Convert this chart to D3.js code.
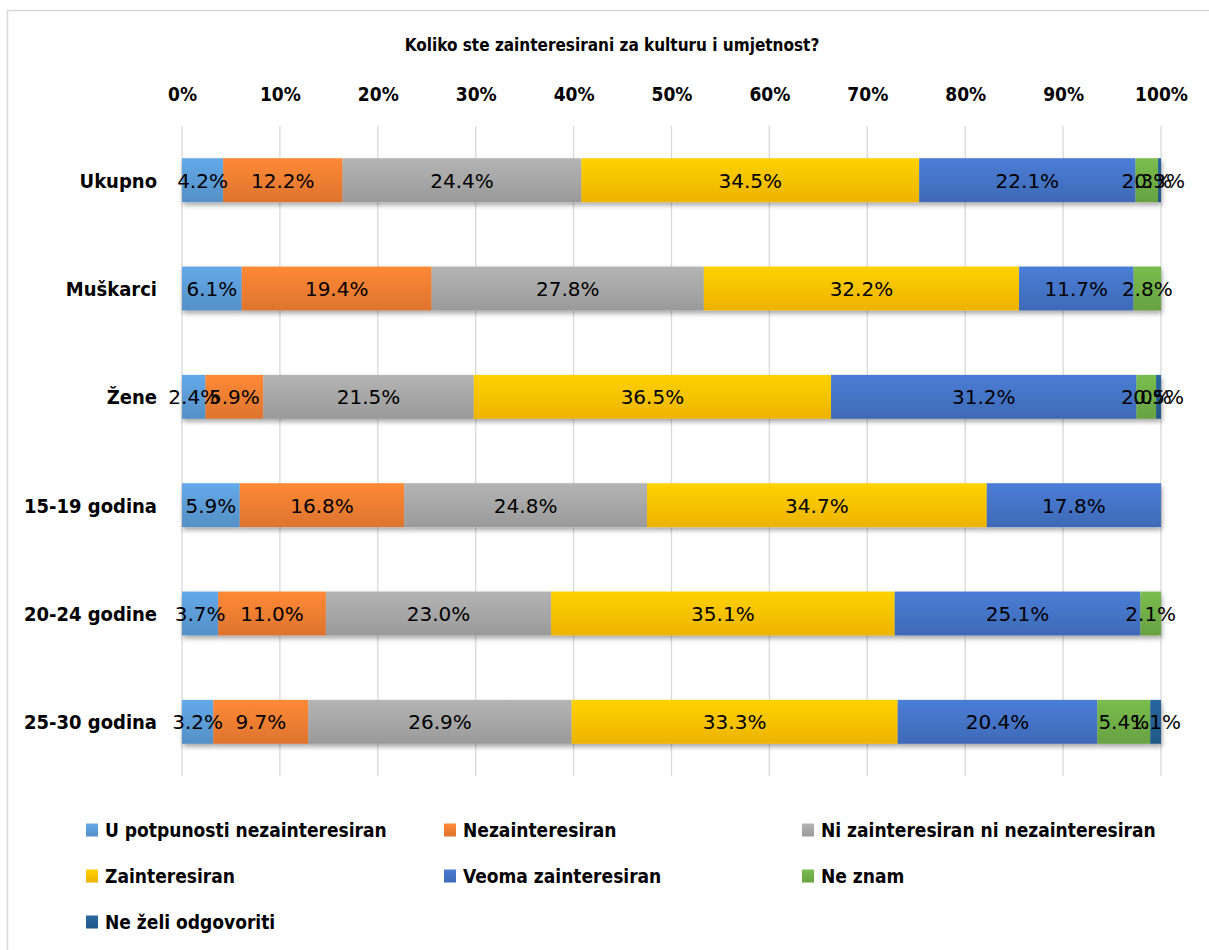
<!DOCTYPE html>
<html><head><meta charset="utf-8">
<script src="https://cdn.jsdelivr.net/npm/d3@7"></script>
<style>
body{margin:0;background:#fff;}
svg{display:block;}
</style></head>
<body>
<svg id="c" width="1209" height="950"></svg>
<script>
const categories = ["Ukupno","Muškarci","Žene","15-19 godina","20-24 godine","25-30 godina"];
const seriesNames = ["U potpunosti nezainteresiran","Nezainteresiran","Ni zainteresiran ni nezainteresiran","Zainteresiran","Veoma zainteresiran","Ne znam","Ne želi odgovoriti"];
const seriesColors = ["#5B9BD5","#ED7D31","#A5A5A5","#FFC000","#4472C4","#70AD47","#255E91"];
const sUpotpunosti = [4.2, 6.1, 2.4, 5.9, 3.7, 3.2];
const sNezaint     = [12.2, 19.4, 5.9, 16.8, 11.0, 9.7];
const sNi          = [24.4, 27.8, 21.5, 24.8, 23.0, 26.9];
const sZaint       = [34.5, 32.2, 36.5, 34.7, 35.1, 33.3];
const sVeoma       = [22.1, 11.7, 31.2, 17.8, 25.1, 20.4];
const sNeZnam      = [2.3, 2.8, 2.0, 0, 2.1, 5.4];
const sNeZeli      = [0.3, 0, 0.5, 0, 0, 1.1];
const tickValues = [0,10,20,30,40,50,60,70,80,90,100];
const title = "Koliko ste zainteresirani za kulturu i umjetnost?";

const series = [sUpotpunosti,sNezaint,sNi,sZaint,sVeoma,sNeZnam,sNeZeli];
const rows = categories.map((c,i)=>{const o={cat:c}; seriesNames.forEach((s,j)=>o[s]=series[j][i]); return o;});
const stacked = d3.stack().keys(seriesNames)(rows);

const svg = d3.select("#c");
const cond = "'DejaVu Sans Condensed','DejaVu Sans',sans-serif";
const regular = "'DejaVu Sans',sans-serif";

// frame
svg.append("rect").attr("x",7.5).attr("y",10.5).attr("width",1220).attr("height",960)
  .attr("fill","#fff").attr("stroke","#d9d9d9").attr("stroke-width",1.5);

const defs = svg.append("defs");
const f = defs.append("filter").attr("id","sh").attr("x","-5%").attr("y","-20%").attr("width","110%").attr("height","160%");
f.append("feDropShadow").attr("dx",1).attr("dy",3).attr("stdDeviation",2.5).attr("flood-color","#000").attr("flood-opacity",0.35);
seriesColors.forEach((c,i)=>{
  const g = defs.append("linearGradient").attr("id","g"+i).attr("x1",0).attr("y1",0).attr("x2",0).attr("y2",1);
  g.append("stop").attr("offset","0%").attr("stop-color",d3.color(c).brighter(0.25));
  g.append("stop").attr("offset","100%").attr("stop-color",d3.color(c).darker(0.2));
});

const x = d3.scaleLinear().domain([0,100]).range([182,1161]);
const y = d3.scaleBand().domain(categories).range([126,776]).paddingInner(0.595).paddingOuter(0.2975);

svg.append("text").attr("x",612).attr("y",51).attr("text-anchor","middle")
  .attr("font-family",cond).attr("font-stretch","condensed").attr("font-weight","bold").attr("font-size",17).attr("fill","#000").text(title);

// gridlines
svg.append("g").selectAll("line").data(tickValues).join("line")
  .attr("x1",d=>x(d)).attr("x2",d=>x(d)).attr("y1",126).attr("y2",776)
  .attr("stroke","#d9d9d9").attr("stroke-width",1.3);

// top axis
const ax = svg.append("g").attr("transform","translate(0,101)")
  .call(d3.axisTop(x).tickValues(tickValues).tickFormat(d=>d+"%").tickSize(0).tickPadding(0));
ax.select(".domain").remove();
ax.selectAll("text").attr("font-family",cond).attr("font-stretch","condensed").attr("font-weight","bold").attr("font-size",19).attr("fill","#000").attr("dy",0);

// left axis labels
const ay = svg.append("g").attr("transform","translate(157,0)")
  .call(d3.axisLeft(y).tickSize(0).tickPadding(0));
ay.select(".domain").remove();
ay.selectAll("text").attr("font-family",cond).attr("font-stretch","condensed").attr("font-weight","bold").attr("font-size",20).attr("fill","#000").attr("dy","0.37em");

// bars
const layers = svg.append("g").attr("filter","url(#sh)");
stacked.forEach((s,i)=>{
  layers.append("g").selectAll("rect").data(s.filter(d=>d[1]-d[0]>0)).join("rect")
    .attr("x",d=>x(d[0])).attr("width",d=>x(d[1])-x(d[0]))
    .attr("y",d=>y(d.data.cat)).attr("height",y.bandwidth())
    .attr("fill","url(#g"+i+")");
});

// labels
const lg = svg.append("g");
stacked.forEach((s,i)=>{
  lg.append("g").selectAll("text").data(s.filter(d=>d[1]-d[0]>0)).join("text")
    .attr("x",d=>(x(d[0])+x(d[1]))/2).attr("y",d=>y(d.data.cat)+y.bandwidth()/2)
    .attr("dy","0.37em").attr("text-anchor","middle")
    .attr("font-family",regular).attr("font-size",20).attr("fill","#000")
    .text(d=>d3.format(".1f")(d[1]-d[0])+"%");
});

// legend
const legX = [86,444,802], legY = [830,876,922];
const leg = svg.append("g");
seriesNames.forEach((n,i)=>{
  const gx = legX[i%3], gy = legY[Math.floor(i/3)];
  leg.append("rect").attr("x",gx).attr("y",gy-6.5).attr("width",12).attr("height",13).attr("fill","url(#g"+i+")");
  leg.append("text").attr("x",gx+19).attr("y",gy).attr("dy","0.37em")
    .attr("font-family",cond).attr("font-stretch","condensed").attr("font-weight","bold").attr("font-size",19).attr("fill","#000").text(n);
});
</script>
</body></html>
